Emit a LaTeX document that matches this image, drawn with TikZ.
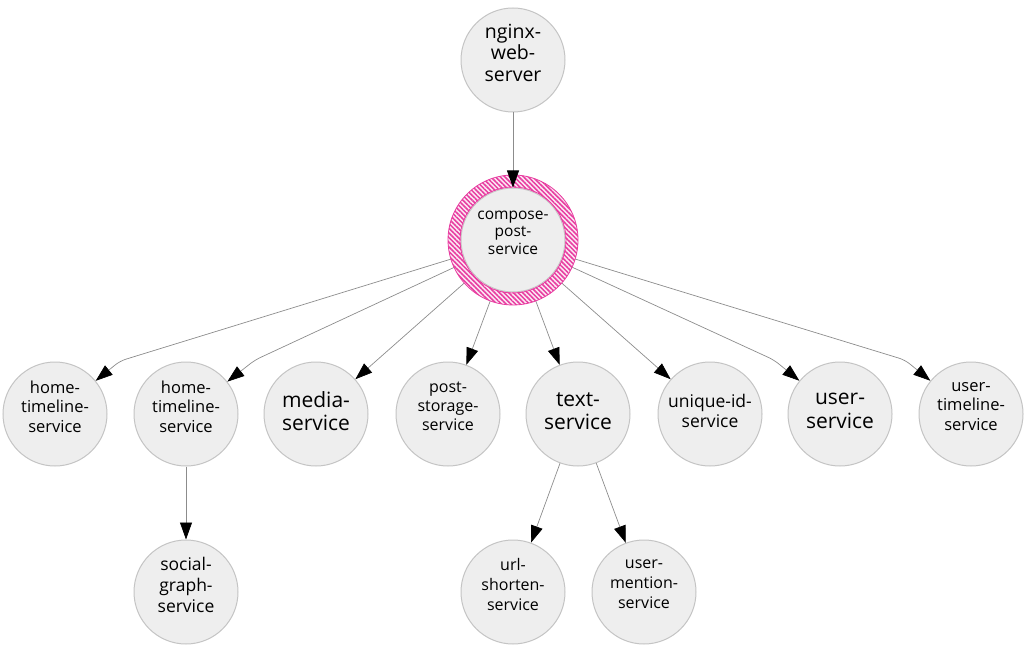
\documentclass[tikz,border=0pt]{standalone}
\usepackage{fontspec}
\setmainfont{Open Sans}
\usetikzlibrary{arrows.meta,patterns.meta}
\definecolor{nodegray}{HTML}{EEEEEE}
\definecolor{bordergray}{HTML}{C4C4C4}
\definecolor{linegray}{HTML}{8C8C8C}
\definecolor{hotpink}{RGB}{232,60,160}
\tikzset{
  svc/.style={circle, draw=bordergray, line width=1pt, fill=nodegray,
    minimum size=104pt, inner sep=0pt, align=center, text depth=15pt},
  two/.style={text depth=6pt},
  fs/.style 2 args={font=\fontsize{#1}{#2}\selectfont},
  flow/.style={draw=linegray, line width=0.7pt, rounded corners=6pt,
    -{Triangle[length=17pt,width=12pt,color=black]}}
}
\begin{document}
\begin{tikzpicture}[x=1pt,y=-1pt]
        \useasboundingbox (0,0) rectangle (1027,652);
        % Top
        \node[svc, fs={19.5}{21.5}] (nginx) at (513,60) {nginx-\\web-\\server};
        \node[svc, fs={15.5}{17.5}] (compose) at (513,240) {compose-\\post-\\service};
        % Second row
        \node[svc, fs={16.5}{19.5}] (hometl) at (55,414) {home-\\timeline-\\service};
        \node[svc, fs={16.5}{19.5}] (hometlb) at (186,414) {home-\\timeline-\\service};
        \node[svc, two, fs={21}{23.5}] (media) at (316,414) {media-\\service};
        \node[svc, fs={16}{19}] (poststore) at (448,414) {post-\\storage-\\service};
        \node[svc, two, fs={21}{23.5}] (text) at (578,414) {text-\\service};
        \node[svc, two, fs={17.5}{20.5}] (uniqueid) at (710,414) {unique-id-\\service};
        \node[svc, two, fs={21}{23.5}] (user) at (840,414) {user-\\service};
        \node[svc, fs={16.5}{19.5}] (usertl) at (971,414) {user-\\timeline-\\service};
        % Third row
        \node[svc, fs={17.5}{21}] (social) at (186,592) {social-\\graph-\\service};
        \node[svc, fs={16}{20}] (url) at (513,592) {url-\\shorten-\\service};
        \node[svc, fs={16}{20}] (mention) at (644,592) {user-\\mention-\\service};
        % Bends
        \coordinate (b1) at (120,361);
        \coordinate (b2) at (255,360);
        \coordinate (b3) at (774,360);
        \coordinate (b4) at (905,360);
        % Edges out of compose
        \draw[flow] (compose) -- (b1) -- (hometl);
        \draw[flow] (compose) -- (b2) -- (hometlb);
        \draw[flow] (compose) -- (b3) -- (user);
        \draw[flow] (compose) -- (b4) -- (usertl);
        \foreach \t in {media,poststore,text,uniqueid}
            \draw[flow] (compose) -- (\t);
        \draw[flow] (hometlb) -- (social);
        \draw[flow] (text) -- (url);
        \draw[flow] (text) -- (mention);
        % Hatched ring
        \fill[hotpink!12, even odd rule] (compose.center) circle (65) circle (52.5);
        \fill[pattern={Lines[angle=-45,distance=3.3pt,line width=1.5pt]},
              pattern color=hotpink, even odd rule]
              (compose.center) circle (65) circle (52.5);
        \draw[hotpink, line width=0.8pt] (compose.center) circle (65);
        \draw[hotpink, line width=0.8pt] (compose.center) circle (53);
        \draw[flow] (nginx) -- (compose);
    \end{tikzpicture}
\end{document}
